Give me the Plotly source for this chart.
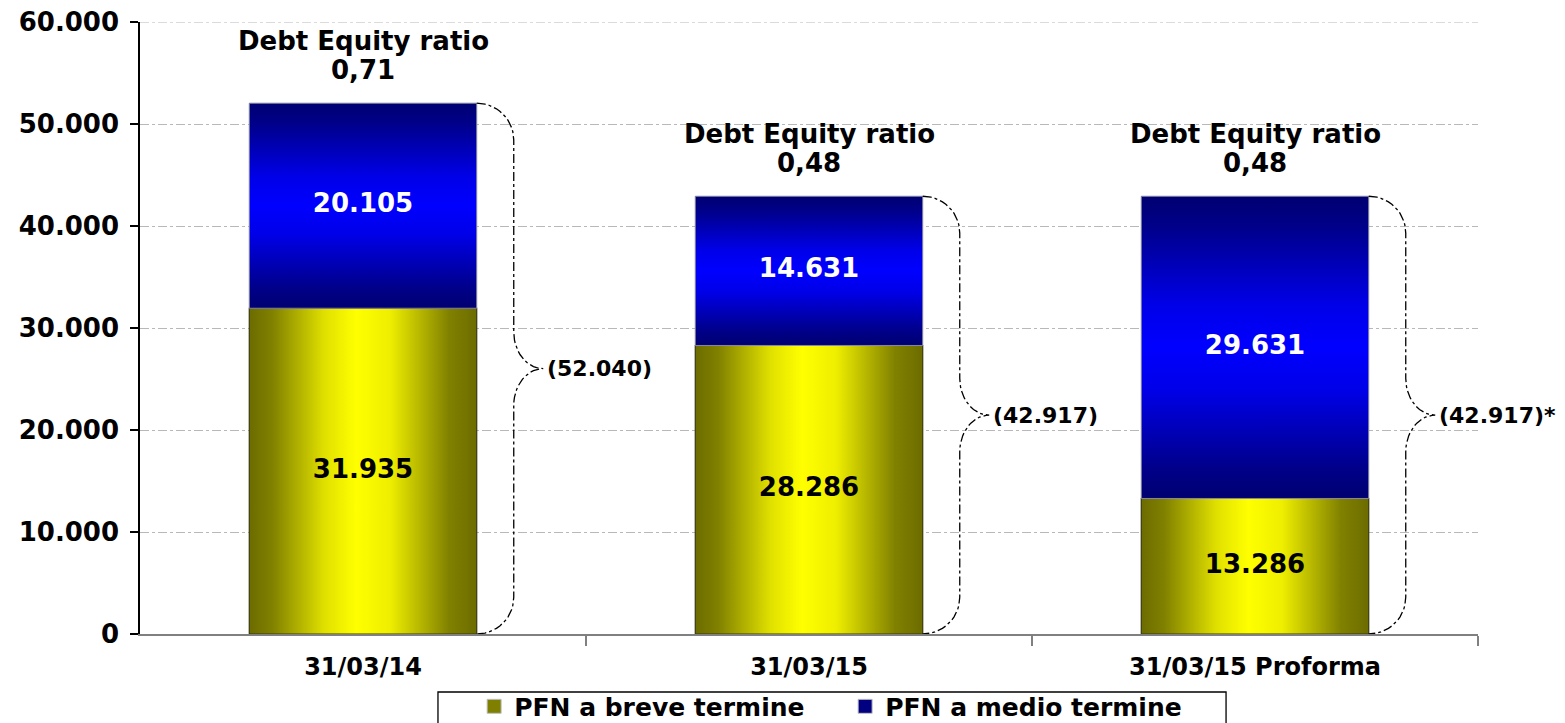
import math
import plotly.graph_objects as go

# ---------------- data ----------------
categories = ["31/03/14", "31/03/15", "31/03/15 Proforma"]
pfn_breve = [31935, 28286, 13286]
pfn_medio = [20105, 14631, 29631]
pfn_totale = [52040, 42917, 42917]
debt_equity = ["0,71", "0,48", "0,48"]
total_suffix = ["", "", "*"]
y_ticks = [0, 10000, 20000, 30000, 40000, 50000, 60000]
series_names = ["PFN a breve termine", "PFN a medio termine"]
ratio_title = "Debt Equity ratio"

# ---------------- style ----------------
FONT = "DejaVu Sans"
BAR_HALF = 0.255
x_pos = list(range(len(categories)))
GRID_COLOR = "#b8b8b8"

YELLOW_SCALE = [[0, "#6c6c00"], [0.1, "#808000"], [0.33, "#e0e000"], [0.47, "#ffff00"],
                [0.62, "#eeee00"], [0.88, "#808000"], [1, "#6c6c00"]]
BLUE_SCALE = [[0, "#000070"], [0.1, "#00008a"], [0.36, "#0000e8"], [0.5, "#0000ff"],
              [0.64, "#0000e8"], [0.9, "#00008a"], [1, "#000070"]]


def fmt(v):
    return f"{v:,}".replace(",", ".")


fig = go.Figure()

# base bars (structure)
fig.add_trace(go.Bar(
    x=x_pos, y=pfn_breve, width=2 * BAR_HALF, name=series_names[0],
    marker=dict(color="#808000", line=dict(color="#c8c8c8", width=1)),
    hoverinfo="skip", showlegend=False))
fig.add_trace(go.Bar(
    x=x_pos, y=pfn_medio, width=2 * BAR_HALF, name=series_names[1],
    marker=dict(color="#000080", line=dict(color="#c8c8c8", width=1)),
    hoverinfo="skip", showlegend=False))


def rect(i, y0, y1):
    xs = [i - BAR_HALF, i + BAR_HALF, i + BAR_HALF, i - BAR_HALF, i - BAR_HALF]
    ys = [y0, y0, y1, y1, y0]
    return xs, ys


# gradient overlays
for i in x_pos:
    xs, ys = rect(i, 0, pfn_breve[i])
    fig.add_trace(go.Scatter(
        x=xs, y=ys, mode="lines", fill="toself",
        fillgradient=dict(type="horizontal", colorscale=YELLOW_SCALE),
        line=dict(color="#3a3a10", width=1.2), showlegend=False, hoverinfo="skip"))
    xs, ys = rect(i, pfn_breve[i], pfn_breve[i] + pfn_medio[i])
    fig.add_trace(go.Scatter(
        x=xs, y=ys, mode="lines", fill="toself",
        fillgradient=dict(type="vertical", colorscale=BLUE_SCALE),
        line=dict(color="#8888aa", width=1), showlegend=False, hoverinfo="skip"))

# legend entries (square markers)
fig.add_trace(go.Scatter(
    x=[None], y=[None], mode="markers", name=series_names[0],
    marker=dict(symbol="square", size=14, color="#808000", line=dict(color="#c0c0c0", width=1))))
fig.add_trace(go.Scatter(
    x=[None], y=[None], mode="markers", name=series_names[1],
    marker=dict(symbol="square", size=14, color="#000080", line=dict(color="#c0c0c0", width=1))))

# value labels
fig.add_trace(go.Scatter(
    x=x_pos, y=[v / 2 for v in pfn_breve], mode="text",
    text=[fmt(v) for v in pfn_breve],
    textfont=dict(family=FONT, size=26, color="black", weight="bold"),
    showlegend=False, hoverinfo="skip"))
fig.add_trace(go.Scatter(
    x=x_pos, y=[b + m / 2 for b, m in zip(pfn_breve, pfn_medio)], mode="text",
    text=[fmt(v) for v in pfn_medio],
    textfont=dict(family=FONT, size=26, color="white", weight="bold"),
    showlegend=False, hoverinfo="skip"))

# braces
RX = 0.083      # horizontal offset of brace spine from bar edge
RX2 = 0.066     # spine to tip
RY = 3600       # curve height near ends
RY2 = 3600      # curve height near tip
N = 14


def brace(i, total):
    xr = i + BAR_HALF
    xv = xr + RX
    xt = xv + RX2
    mid = total / 2
    xs, ys = [], []
    for k in range(N + 1):
        t = math.pi / 2 * (1 - k / N)
        xs.append(xr + RX * math.cos(t))
        ys.append(total - RY + RY * math.sin(t))
    cx, cy = xt, mid + RY2
    for k in range(N + 1):
        t = math.pi + math.pi / 2 * k / N
        xs.append(cx + RX2 * math.cos(t))
        ys.append(cy + RY2 * math.sin(t))
    cx, cy = xt, mid - RY2
    for k in range(N + 1):
        t = math.pi / 2 + math.pi / 2 * k / N
        xs.append(cx + RX2 * math.cos(t))
        ys.append(cy + RY2 * math.sin(t))
    for k in range(N + 1):
        t = -math.pi / 2 * k / N
        xs.append(xr + RX * math.cos(t))
        ys.append(RY + RY * math.sin(t))
    return xs, ys, xt, mid


for i in x_pos:
    xs, ys, xt, mid = brace(i, pfn_totale[i])
    fig.add_trace(go.Scatter(
        x=xs, y=ys, mode="lines", line=dict(color="black", width=1.3, dash="dashdot"),
        showlegend=False, hoverinfo="skip"))
    fig.add_annotation(
        x=xt, y=mid, xanchor="left", yanchor="middle", xshift=2, showarrow=False,
        text=f"({fmt(pfn_totale[i])}){total_suffix[i]}",
        font=dict(family=FONT, size=22, color="black", weight="bold"))
    fig.add_annotation(
        x=i, y=pfn_totale[i], yanchor="middle", yshift=62, showarrow=False,
        text=ratio_title, font=dict(family=FONT, size=26, color="black", weight="bold"))
    fig.add_annotation(
        x=i, y=pfn_totale[i], yanchor="middle", yshift=33, showarrow=False,
        text=debt_equity[i], font=dict(family=FONT, size=26, color="black", weight="bold"))

boundaries = [i + 0.5 for i in x_pos]

# top gridline (plotly omits the grid line at the edge of the range)
fig.add_shape(type="line", xref="paper", yref="y", x0=0, x1=1,
              y0=y_ticks[-1], y1=y_ticks[-1],
              line=dict(color=GRID_COLOR, width=1, dash="dashdot"), layer="below")

# legend frame (drawn as a paper shape so it can be wider than the entries)
fig.add_shape(type="rect", xref="paper", yref="paper",
              x0=0.2227, x1=0.8117, y0=-0.0948, y1=-0.3,
              line=dict(color="black", width=1.3), fillcolor="rgba(0,0,0,0)", layer="above")

# the page body adds an 8px offset; margins compensate so the plot area
# sits at x 140..1478, y 22..634 of the window
fig.update_layout(
    width=1565, height=723,
    barmode="stack",
    separators=",.",
    plot_bgcolor="white", paper_bgcolor="white",
    margin=dict(l=132, r=95, t=14, b=97, autoexpand=False),
    font=dict(family=FONT, color="black"),
    showlegend=True,
    legend=dict(
        orientation="h", x=0.527, xanchor="center", y=-0.081, yanchor="top",
        borderwidth=0, bgcolor="rgba(0,0,0,0)",
        font=dict(family=FONT, size=25, color="black", weight="bold"),
        entrywidth=326, entrywidthmode="pixels",
        traceorder="normal", itemclick=False),
    xaxis=dict(
        range=[-0.5, 2.5], tickmode="array", tickvals=x_pos, ticktext=categories,
        ticks="", showgrid=False, zeroline=False,
        showline=True, linecolor="#808080", linewidth=1.5,
        tickfont=dict(family=FONT, size=24, color="black", weight="bold"),
        ticklabelstandoff=10, ticklabeloverflow="allow",
        minor=dict(tickmode="array", tickvals=boundaries, ticks="outside",
                   ticklen=10, tickcolor="#808080", tickwidth=1.5, showgrid=False),
        automargin=False, fixedrange=True),
    yaxis=dict(
        range=[0, 60000], tickmode="array", tickvals=y_ticks, tickformat=",d",
        ticks="outside", ticklen=8, tickcolor="black", tickwidth=1.5,
        showline=True, linecolor="black", linewidth=1.5,
        showgrid=True, gridcolor=GRID_COLOR, griddash="dashdot", gridwidth=1,
        zeroline=False,
        tickfont=dict(family=FONT, size=26, color="black", weight="bold"),
        ticklabelstandoff=6, ticklabeloverflow="allow",
        automargin=False, fixedrange=True),
)

fig.write_html("out.html")
